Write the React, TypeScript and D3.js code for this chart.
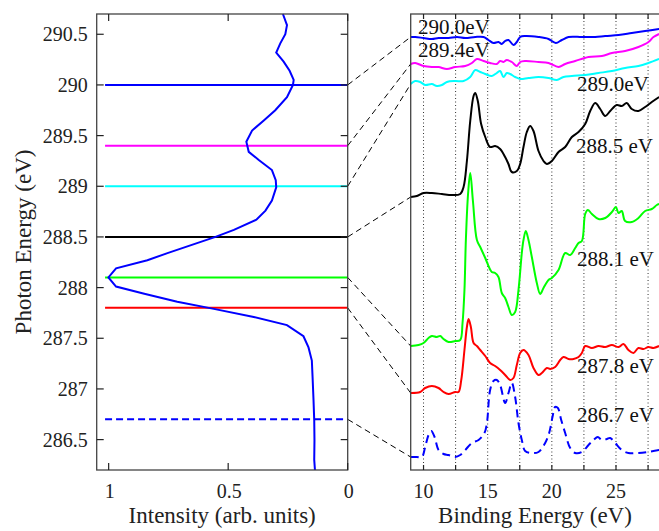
import React from 'react';
import * as d3 from 'd3';

// photon energy scan (left panel): [photon energy, intensity]
const yieldScan: [number, number][] = [
  [290.7, 0.271], [290.59, 0.254], [290.5, 0.261], [290.41, 0.282], [290.32, 0.299], [290.23, 0.268],
  [290.14, 0.243], [290.05, 0.226], [290.0, 0.229], [289.88, 0.254], [289.75, 0.303], [289.65, 0.351],
  [289.55, 0.4], [289.44, 0.424], [289.34, 0.414], [289.26, 0.372], [289.16, 0.317], [289.06, 0.301],
  [288.99, 0.299], [288.86, 0.317], [288.76, 0.344], [288.67, 0.382], [288.57, 0.476], [288.5, 0.553],
  [288.34, 0.754], [288.27, 0.838], [288.19, 0.969], [288.1, 1.001], [288.01, 0.969], [287.94, 0.851],
  [287.86, 0.713], [287.79, 0.56], [287.71, 0.393], [287.63, 0.254], [287.52, 0.185], [287.41, 0.164],
  [287.28, 0.15], [287.12, 0.147], [286.89, 0.143], [286.69, 0.14], [286.49, 0.139], [286.3, 0.14],
  [286.2, 0.137],
];

// spectra (right panel): [binding energy, intensity with offset]
const spec290: [number, number][] = [
  [9.0, 43.3], [9.35, 43.3], [10.0, 43.2], [10.65, 43.1], [11.17, 43.2], [11.95, 43.2], [12.6, 43.3],
  [13.25, 43.2], [14.03, 43.3], [14.68, 43.3], [15.06, 43.0], [15.45, 42.7], [15.84, 42.8], [16.1, 42.6],
  [16.36, 42.9], [16.62, 43.0], [17.01, 42.5], [17.27, 42.8], [17.53, 43.3], [17.92, 43.4], [18.96, 43.3],
  [19.74, 43.1], [20.31, 42.7], [20.78, 43.0], [21.3, 43.3], [22.34, 43.3], [23.38, 43.3], [24.16, 43.4],
  [25.2, 43.5], [26.23, 43.7], [27.27, 43.9], [28.36, 44.1],
];
const spec2894: [number, number][] = [
  [9.0, 40.6], [9.35, 40.7], [10.0, 40.4], [10.65, 40.3], [11.17, 40.3], [11.82, 40.1], [12.47, 40.3],
  [13.25, 40.4], [13.77, 40.7], [14.16, 41.1], [14.68, 40.9], [15.19, 40.7], [15.71, 40.6], [15.97, 40.9],
  [16.23, 40.8], [16.49, 41.0], [16.88, 40.8], [17.27, 40.4], [17.53, 40.8], [17.92, 40.9], [18.96, 40.8],
  [19.74, 40.7], [20.52, 40.3], [21.04, 40.6], [21.82, 40.9], [22.86, 41.3], [23.9, 41.4], [24.68, 41.7],
  [25.71, 41.9], [26.75, 42.3], [27.53, 42.8], [27.92, 43.3], [28.36, 43.6],
];
const spec289: [number, number][] = [
  [9.0, 38.6], [9.35, 38.9], [9.74, 38.8], [10.13, 38.5], [10.65, 38.6], [11.04, 38.4], [11.43, 38.5],
  [11.82, 38.8], [12.47, 38.9], [13.12, 38.9], [13.64, 39.3], [14.03, 40.0], [14.42, 39.8], [14.81, 39.6],
  [15.32, 39.4], [15.71, 39.7], [15.97, 39.9], [16.23, 39.3], [16.49, 39.7], [16.75, 39.6], [17.14, 39.3],
  [17.53, 39.1], [18.18, 39.2], [18.96, 39.3], [19.74, 39.2], [20.39, 39.0], [20.91, 39.3], [21.56, 39.4],
  [22.6, 39.5], [23.64, 39.7], [24.68, 39.9], [25.71, 40.2], [26.75, 40.4], [27.53, 40.7], [28.36, 41.1],
];
const spec2885: [number, number][] = [
  [9.0, 27.3], [9.48, 27.4], [10.0, 27.7], [10.65, 27.7], [11.43, 27.6], [12.21, 27.5], [12.86, 27.6],
  [13.12, 28.3], [13.38, 30.9], [13.64, 34.9], [13.9, 37.4], [14.03, 37.7], [14.23, 36.9], [14.49, 34.6],
  [14.81, 33.3], [15.19, 32.3], [15.58, 32.4], [15.97, 32.1], [16.36, 31.3], [16.62, 30.6], [16.88, 29.8],
  [17.27, 29.9], [17.53, 30.6], [17.79, 32.3], [18.05, 33.8], [18.31, 34.4], [18.57, 33.9], [18.96, 31.9],
  [19.35, 30.9], [19.61, 30.6], [20.0, 30.9], [20.52, 31.8], [21.04, 32.3], [21.56, 33.3], [22.08, 33.8],
  [22.6, 34.6], [22.99, 35.9], [23.38, 36.7], [23.77, 36.1], [24.16, 35.4], [24.55, 35.9], [25.06, 36.5],
  [25.45, 36.4], [25.84, 36.7], [26.23, 36.1], [26.75, 35.9], [27.27, 36.3], [27.79, 36.8], [28.36, 37.3],
];
const spec2881: [number, number][] = [
  [9.0, 12.4], [9.61, 12.5], [10.0, 12.7], [10.39, 13.2], [10.65, 13.4], [11.04, 13.3], [11.3, 13.4],
  [11.56, 13.1], [11.95, 12.8], [12.47, 12.9], [12.86, 13.0], [13.04, 14.7], [13.19, 18.0], [13.3, 23.0],
  [13.47, 27.6], [13.64, 29.7], [13.85, 26.9], [14.16, 23.0], [14.42, 22.3], [14.81, 21.2], [15.32, 19.8],
  [15.58, 19.7], [15.84, 19.3], [16.1, 17.7], [16.36, 17.2], [16.62, 16.3], [16.88, 15.5], [17.14, 15.8],
  [17.4, 18.0], [17.66, 21.7], [17.79, 23.0], [17.97, 23.9], [18.18, 23.0], [18.44, 21.3], [18.83, 18.7],
  [19.09, 17.6], [19.35, 18.2], [19.74, 19.0], [20.0, 19.2], [20.52, 20.0], [21.04, 21.7], [21.43, 21.5],
  [21.82, 22.2], [22.08, 22.7], [22.34, 22.9], [22.6, 25.6], [22.81, 26.0], [23.12, 25.6], [23.64, 25.1],
  [24.16, 25.2], [24.68, 25.8], [24.99, 26.3], [25.2, 25.7], [25.45, 25.9], [25.71, 24.9], [26.23, 24.8],
  [26.75, 25.2], [27.27, 25.9], [27.79, 26.1], [28.18, 26.5], [28.36, 26.6],
];
const spec2878: [number, number][] = [
  [9.0, 7.7], [9.74, 7.8], [10.13, 8.2], [10.65, 8.4], [11.17, 8.2], [11.56, 7.8], [11.95, 7.6],
  [12.47, 7.8], [12.73, 7.8], [12.94, 9.0], [13.19, 12.0], [13.38, 14.3], [13.51, 15.1], [13.69, 14.3],
  [13.9, 12.7], [14.16, 12.4], [14.42, 12.0], [14.81, 11.4], [15.19, 10.7], [15.58, 10.4], [15.97, 10.0],
  [16.36, 9.5], [16.75, 9.0], [17.01, 9.2], [17.27, 10.5], [17.53, 11.7], [17.79, 12.0], [18.18, 11.5],
  [18.57, 10.2], [18.96, 9.5], [19.22, 9.7], [19.61, 10.2], [19.87, 10.1], [20.26, 10.3], [20.65, 11.0],
  [20.91, 11.3], [21.3, 11.1], [21.69, 11.1], [22.08, 11.3], [22.34, 11.7], [22.6, 12.4], [23.12, 12.2],
  [23.64, 12.4], [24.16, 12.3], [24.68, 12.5], [25.2, 12.3], [25.58, 12.6], [25.97, 12.0], [26.36, 11.7],
  [26.75, 12.2], [27.14, 12.1], [27.53, 12.3], [27.92, 12.2], [28.36, 12.4],
];
const spec2867: [number, number][] = [
  [9.0, 1.3], [9.48, 1.3], [9.87, 1.3], [10.13, 2.3], [10.39, 3.5], [10.6, 3.9], [10.86, 3.3], [11.17, 2.0],
  [11.56, 1.6], [11.95, 1.5], [12.47, 1.3], [12.86, 1.5], [13.25, 2.0], [13.77, 2.7], [14.29, 3.0],
  [14.75, 3.7], [14.94, 4.7], [15.19, 8.0], [15.45, 8.9], [15.71, 9.0], [15.97, 8.5], [16.36, 6.7],
  [16.62, 7.7], [16.88, 8.7], [17.14, 7.3], [17.4, 4.7], [17.66, 3.0], [17.92, 1.9], [18.44, 1.7],
  [18.96, 1.8], [19.48, 2.7], [19.79, 3.7], [20.05, 5.3], [20.26, 6.3], [20.47, 6.2], [20.73, 5.0],
  [21.04, 3.7], [21.43, 2.2], [21.82, 1.7], [22.34, 1.8], [22.86, 2.5], [23.25, 3.0], [23.58, 3.3],
  [23.9, 3.0], [24.29, 3.1], [24.55, 3.2], [24.94, 2.7], [25.45, 2.0], [25.97, 1.7], [26.75, 1.7],
  [27.53, 1.8], [28.36, 2.0],
];

const photonEnergies = [290.0, 289.4, 289.0, 288.5, 288.1, 287.8, 286.7];
const spectra = [spec290, spec2894, spec289, spec2885, spec2881, spec2878, spec2867];
const energyLabels = ['290.0eV', '289.4eV', '289.0eV', '288.5 eV', '288.1 eV', '287.8 eV', '286.7 eV'];
const colors = ['#0000ff', '#ff00ff', '#00ffff', '#000000', '#00ff00', '#ff0000', '#0000ff'];

const photonTicks = [286.5, 287, 287.5, 288, 288.5, 289, 289.5, 290, 290.5];
const intensityTicks = [1, 0.5, 0];
const bindingTicks = [10, 15, 20, 25];
const bindingGrid = [10, 12.5, 15, 17.5, 20, 22.5, 25, 27.5];

// label placement (pixels)
const labelPos = [[418, 34], [418, 57], [577, 91], [576, 153], [577, 266], [577, 373], [577, 422]];

const FONT = "'Liberation Serif', 'Times New Roman', Times, serif";
const FRAME = '#444';

export default function App() {
  const L = { x0: 96.7, x1: 347.7, y0: 14, y1: 470 };
  const R = { x0: 410.7, x1: 660.9, y0: 14, y1: 470 };

  const xI = d3.scaleLinear().domain([1.05, 0]).range([L.x0, L.x1]);
  const yP = d3.scaleLinear().domain([286.2, 290.7]).range([L.y1, L.y0]);
  const xB = d3.scaleLinear().domain([9, 28.5]).range([R.x0, R.x1]);
  const yS = d3.scaleLinear().domain([0, 45.6]).range([R.y1, R.y0]);

  const scanLine = d3.line<[number, number]>()
    .x(d => xI(d[1]))
    .y(d => yP(d[0]));

  const specLine = d3.line<[number, number]>()
    .x(d => xB(d[0]))
    .y(d => yS(d[1]))
    .curve(d3.curveCatmullRom.alpha(0.5));

  const txt = { fontFamily: FONT };

  return (
    <svg width={659} height={531} style={{ position: 'absolute', left: 0, top: 0, background: '#fff', fontFamily: FONT }}>
      {/* left panel: horizontal markers */}
      {photonEnergies.map((e, i) => (
        <line key={'h' + i} x1={xI(1.015)} x2={xI(0)} y1={yP(e)} y2={yP(e)}
          stroke={colors[i]} strokeWidth={2} strokeDasharray={i === 6 ? '7,4' : undefined} />
      ))}
      <path d={scanLine(yieldScan) || ''} fill="none" stroke="#0000ff" strokeWidth={2} />

      {/* connectors */}
      {photonEnergies.map((e, i) => (
        <line key={'c' + i} x1={L.x1} y1={yP(e)} x2={R.x0} y2={yS(spectra[i][0][1])}
          stroke="#000" strokeWidth={1} strokeDasharray="6,4" />
      ))}

      {/* right panel grid */}
      {bindingGrid.map(b => (
        <line key={'g' + b} x1={xB(b)} x2={xB(b)} y1={R.y0} y2={R.y1}
          stroke="#333" strokeWidth={1} strokeDasharray="1,2.5" />
      ))}
      {spectra.map((s, i) => (
        <path key={'s' + i} d={specLine(s) || ''} fill="none" stroke={colors[i]} strokeWidth={2}
          strokeDasharray={i === 6 ? '8,5' : undefined} />
      ))}
      {energyLabels.map((t, i) => (
        <text key={'l' + i} x={labelPos[i][0]} y={labelPos[i][1]} fontSize={21} fill="#111" style={txt}>{t}</text>
      ))}

      {/* frames */}
      <rect x={L.x0} y={L.y0} width={L.x1 - L.x0} height={L.y1 - L.y0} fill="none" stroke={FRAME} strokeWidth={1.3} />
      <rect x={R.x0} y={R.y0} width={R.x1 - R.x0} height={R.y1 - R.y0} fill="none" stroke={FRAME} strokeWidth={1.3} />

      {/* left ticks */}
      {photonTicks.map(t => (
        <g key={'py' + t}>
          <line x1={L.x0} x2={L.x0 + 7} y1={yP(t)} y2={yP(t)} stroke="#222" strokeWidth={1.2} />
          <line x1={L.x1 - 7} x2={L.x1} y1={yP(t)} y2={yP(t)} stroke="#222" strokeWidth={1.2} />
          <text x={L.x0 - 9} y={yP(t) + 7} fontSize={20} textAnchor="end" fill="#222" style={txt}>{t}</text>
        </g>
      ))}
      {intensityTicks.map(t => (
        <g key={'ix' + t}>
          <line x1={xI(t)} x2={xI(t)} y1={L.y0} y2={L.y0 + 7} stroke="#222" strokeWidth={1.2} />
          <line x1={xI(t)} x2={xI(t)} y1={L.y1 - 7} y2={L.y1} stroke="#222" strokeWidth={1.2} />
          <text x={xI(t) + 1} y={498} fontSize={20} textAnchor="middle" fill="#222" style={txt}>{t}</text>
        </g>
      ))}

      {/* right ticks */}
      {bindingGrid.map(b => (
        <g key={'bt' + b}>
          <line x1={xB(b)} x2={xB(b)} y1={R.y0} y2={R.y0 + 5} stroke="#222" strokeWidth={1.2} />
          <line x1={xB(b)} x2={xB(b)} y1={R.y1 - 5} y2={R.y1} stroke="#222" strokeWidth={1.2} />
        </g>
      ))}
      {bindingTicks.map(b => (
        <text key={'bl' + b} x={xB(b)} y={498} fontSize={20} textAnchor="middle" fill="#222" style={txt}>{b}</text>
      ))}

      {/* axis titles */}
      <text x={(L.x0 + L.x1) / 2} y={523} fontSize={23} textAnchor="middle" fill="#222" style={txt}>Intensity (arb. units)</text>
      <text x={535} y={523} fontSize={23} textAnchor="middle" fill="#222" style={txt}>Binding Energy (eV)</text>
      <text transform={`translate(31, ${(L.y0 + L.y1) / 2}) rotate(-90)`} fontSize={23} textAnchor="middle" fill="#222" style={txt}>
        Photon Energy (eV)
      </text>
    </svg>
  );
}
